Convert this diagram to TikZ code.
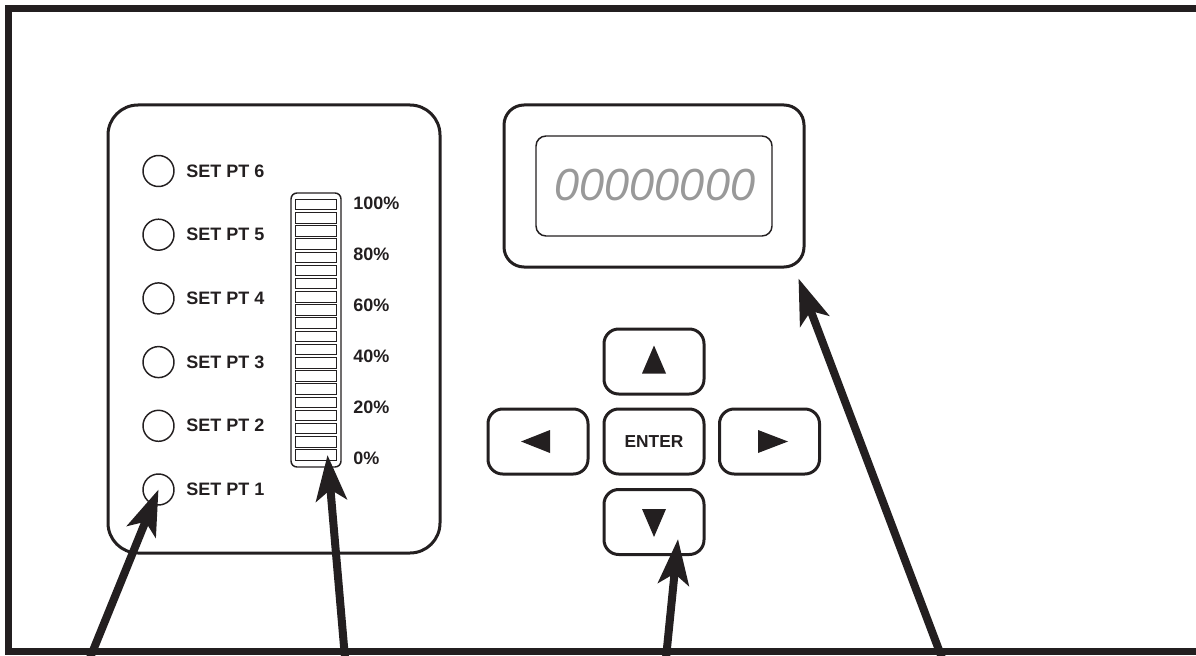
\documentclass[tikz,border=0pt]{standalone}
\usepackage{fontspec}
\setmainfont{Liberation Sans}
\usetikzlibrary{arrows.meta,calc}
\definecolor{ink}{RGB}{35,31,32}
\tikzset{
  panel/.style={draw=ink,line width=2.25pt,rounded corners=22.5pt,inner sep=0pt},
  keybox/.style={draw=ink,line width=2.25pt,rounded corners=11pt,minimum width=75pt,minimum height=48.75pt,inner sep=0pt,text=ink,font=\fontsize{13}{15}\selectfont\bfseries},
  led/.style={draw=ink,circle,line width=1.1pt,minimum size=23.25pt,inner sep=0pt},
  ledlabel/.style={anchor=west,inner sep=0pt,text=ink,font=\fontsize{13.5}{15}\selectfont\bfseries},
  seg/.style={draw=ink,line width=0.75pt,minimum width=30.75pt,minimum height=7.9pt,inner sep=0pt},
  pointer/.style={draw=ink,line width=6pt,-{Stealth[length=34pt,width=23pt,inset=8pt]}},
}
\begin{document}
\begin{tikzpicture}[x=0.75pt,y=0.75pt,yscale=-1,xscale=1]
\useasboundingbox (0,0) rectangle (1196,656);
\clip (0,0) rectangle (1196,656);

%Straight Lines: front frame
\draw [ink,line width=5.25pt]  (1210,8.5) -- (8,8.5) -- (8,651.5) -- (1210,651.5) ;

%Shape: Rounded Rect (set point panel)
\node [panel,minimum width=249pt,minimum height=336pt] (setpanel) at (274,329) {};
%Shape: Circles and labels
\foreach \i in {1,...,6} {
  \node [led] (sp\i) at (158.5,{489.5-63.7*(\i-1)}) {};
  \node [ledlabel] (lbl\i) at (186,{489.5-63.7*(\i-1)}) {SET PT \i};
}
%Shape: Bar graph
\node [draw=ink,line width=1.1pt,rounded corners=4.5pt,minimum width=37.5pt,minimum height=205.5pt] (bar) at (316,330) {};
\foreach \i in {1,...,20}
  \node [seg] (seg\i) at (315.5,{455-13.18*(\i-1)}) {};
% Text Node
\foreach \p [count=\i from 0] in {0,20,...,100}
  \node [ledlabel] (pct\p) at (353,{458-51*\i}) {\p\%};

%Shape: Rounded Rect (display)
\node [panel,rounded corners=15pt,minimum width=225pt,minimum height=121.5pt] (disp) at (654,186) {};
\node [draw=ink,line width=1.1pt,rounded corners=7.5pt,minimum width=177pt,minimum height=75pt] (lcd) at (disp.center) {};
% Text Node
\node [text=black!40,font=\fontsize{33.75}{36}\selectfont\itshape] (digits) at (655,185) {00000000};

%Shape: Keys
\node [keybox] (keyup) at (654,361.5) {};
\node [keybox] (keyenter) at (654,441.5) {ENTER};
\node [keybox] (keyleft) at (538,441.5) {};
\node [keybox] (keyright) at (769.5,441.5) {};
\node [keybox] (keydown) at (654,522) {};
%Shape: Triangles
\fill [ink] ($(keyup.center)+(0,-16)$) -- ++(12,28) -- ++(-24,0) -- cycle ;
\fill [ink] ($(keydown.center)+(0,15)$) -- ++(-12,-28) -- ++(24,0) -- cycle ;
\fill [ink] ($(keyleft.center)+(-17,0)$) -- ++(29,-11.5) -- ++(0,23) -- cycle ;
\fill [ink] ($(keyright.center)+(18.5,0)$) -- ++(-30,-11.5) -- ++(0,23) -- cycle ;

%Straight Lines: pointers
\coordinate (t1) at (90,658);
\coordinate (t2) at (345,658);
\coordinate (t3) at (666,658);
\coordinate (t4) at (942,658);
\draw [pointer] (t1) -- (sp1.center) ;
\draw [pointer] (t2) -- ($(seg1.east)+(-9,0)$) ;
\draw [pointer] (t3) -- ($(keydown.center)+(24,17)$) ;
\draw [pointer] (t4) -- ($(disp.south east)+(-7,10)$) ;

\end{tikzpicture}
\end{document}
